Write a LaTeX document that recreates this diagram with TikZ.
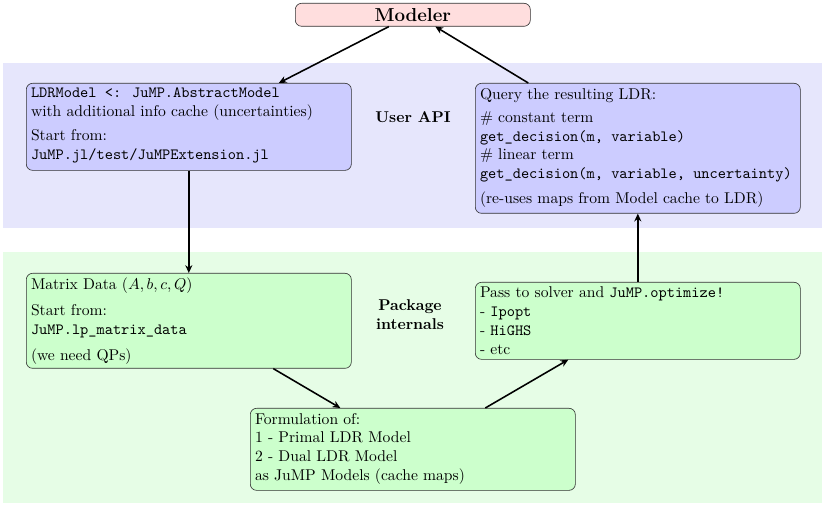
\documentclass[tikz,border=0pt]{standalone}
\usetikzlibrary{calc,arrows.meta}
\definecolor{bandblue}{RGB}{230,230,252}
\definecolor{boxblue}{RGB}{204,204,255}
\definecolor{bandgreen}{RGB}{230,253,230}
\definecolor{boxgreen}{RGB}{204,255,204}
\definecolor{boxred}{RGB}{255,222,222}
\newcommand\bxt[3]{\begin{minipage}[t][#2][t]{#1}#3\end{minipage}}
\tikzset{
  bx/.style={draw=black!80, rounded corners=4pt, inner sep=3pt, anchor=north west, thin},
  arr/.style={-{Stealth[length=5pt,width=4.5pt]}, line width=1pt},
  lbl/.style={font=\bfseries, align=center}
}
\begin{document}
\begin{tikzpicture}[x=0.64pt,y=-0.64pt]
\useasboundingbox (0,0) rectangle (825,505);
\fill[bandblue] (3,63) rectangle (822,228);
\fill[bandgreen] (3,252) rectangle (822,503);
\node[lbl] (uapi) at (413,117) {User API};
\node[lbl] (pint) at (410,315) {Package\\internals};
\node[bx, fill=boxred, anchor=north west, inner sep=0pt, minimum width=150.4pt, minimum height=14.7pt] (mod) at (295,3) {\large\bfseries Modeler};
\node[bx, fill=boxblue] (ldr) at (26,83) {\bxt{202pt}{49.7pt}{\texttt{LDRModel <: JuMP.AbstractModel}\\
with additional info cache (uncertainties)\\[3.5pt]
Start from:\\
\texttt{JuMP.jl/test/JuMPExtension.jl}}};
\node[bx, fill=boxblue] (qry) at (475,83) {\bxt{202pt}{77.2pt}{Query the resulting LDR:\\[3pt]
\# constant term\\
\texttt{get\_decision(m, variable)}\\
\# linear term\\
\texttt{get\_decision(m, variable, uncertainty)}\\[4pt]
(re-uses maps from Model cache to LDR)}};
\node[bx, fill=boxgreen] (mat) at (26,273) {\bxt{202pt}{54.8pt}{Matrix Data $(A,b,c,Q)$\\[4.5pt]
Start from:\\
\texttt{JuMP.lp\_matrix\_data}\\[5pt]
(we need QPs)}};
\node[bx, fill=boxgreen] (pas) at (475,282) {\bxt{202pt}{43.3pt}{Pass to solver and \texttt{JuMP.optimize!}\\
- \texttt{Ipopt}\\
- \texttt{HiGHS}\\
- etc}};
\node[bx, fill=boxgreen] (frm) at (250,408) {\bxt{202pt}{46.5pt}{Formulation of:\\
1 - Primal LDR Model\\
2 - Dual LDR Model\\
as JuMP Models (cache maps)}};
\draw[arr] ($(mod.south)+(-24,0)$) -- ($(ldr.north)+(90,0)$);
\draw[arr] ($(qry.north)+(-109.5,0)$) -- ($(mod.south)+(22.5,0)$);
\draw[arr] (ldr.south) -- (mat.north);
\draw[arr] ($(mat.south)+(84.5,0)$) -- ($(frm.north)+(-72.5,0)$);
\draw[arr] ($(frm.north)+(72.5,0)$) -- ($(pas.south)+(-69.5,0)$);
\draw[arr] (pas.north) -- (qry.south);
\end{tikzpicture}
\end{document}
